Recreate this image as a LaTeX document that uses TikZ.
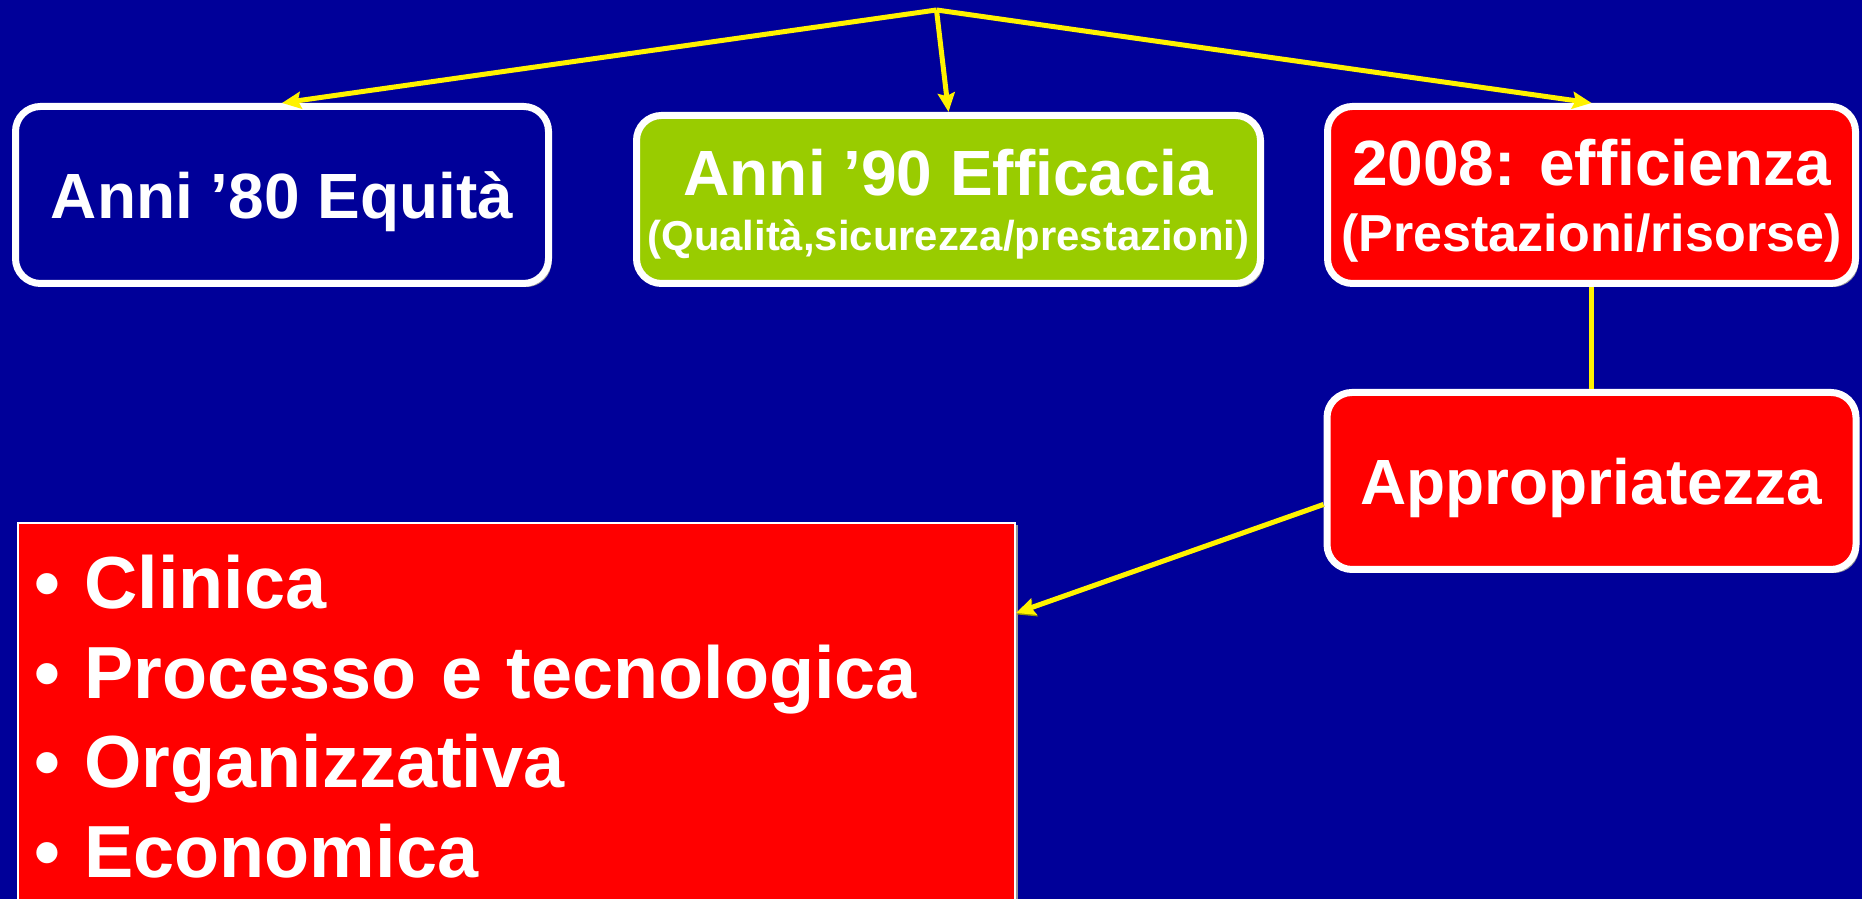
\documentclass[tikz,border=0pt]{standalone}
\usepackage{fontspec}
\setmainfont{Liberation Sans}
\usetikzlibrary{arrows.meta,positioning,shadows}

\definecolor{slideblue}{RGB}{0,0,153}
\definecolor{leafgreen}{RGB}{153,204,0}
\definecolor{darkyellow}{RGB}{150,150,0}

\begin{document}
\begin{tikzpicture}
  [
  era/.style={rectangle,rounded corners=0.25cm,draw=white,line width=0.07cm,
    text=white,align=center,inner sep=0pt,text depth=0pt,
    font=\bfseries\fontsize{18.2}{20}\selectfont,
    drop shadow={shadow xshift=0.03cm,shadow yshift=-0.035cm,fill=black!40,opacity=1}},
  kinds box/.style={rectangle,draw=white,line width=0.02cm,fill=red,text=white,
    text width=9.65cm,align=left,inner xsep=0.16cm,inner ysep=0.32cm,
    font=\bfseries\fontsize{21}{25.5}\selectfont,
    drop shadow={shadow xshift=0.03cm,shadow yshift=-0.02cm,fill=black!40,opacity=1}},
  link/.style={->,>={Stealth[length=0.19cm,width=0.17cm,inset=0.03cm]},yellow,line width=0.05cm},
  lifted/.style={preaction={draw=darkyellow,transform canvas={xshift=0.008cm,yshift=-0.015cm}}}
  ]
  \clip (0,0) rectangle (18.62,8.99);
  \fill[slideblue] (0,0) rectangle (18.62,8.99);

  \coordinate (top) at (9.365,8.89);
  \node[era,fill=slideblue,minimum width=5.33cm,minimum height=1.77cm] (eighties) at (2.82,7.04)
    {Anni ’80 Equità};
  \node[era,fill=leafgreen,minimum width=6.24cm,minimum height=1.68cm,
    font=\bfseries\fontsize{18.2}{15.6}\selectfont] (nineties) at (9.485,6.995)
    {Anni ’90 Efficacia\\{\fontsize{11.9}{12}\selectfont(Qualità,sicurezza/prestazioni)}};
  \node[era,fill=red,minimum width=5.28cm,minimum height=1.77cm,
    font=\bfseries\fontsize{18.2}{18.8}\selectfont] (efficiency) at (15.915,7.04)
    {2008: efficienza\\{\fontsize{14.8}{15}\selectfont(Prestazioni/risorse)}};
  \node[era,fill=red,minimum width=5.29cm,minimum height=1.77cm] (appropriateness)
    [below=1.02cm of efficiency] {Appropriatezza};
  \node[kinds box,anchor=north west] (kinds) at (0.17,3.77)
    {\textbullet\ Clinica\\ \textbullet\ Processo e tecnologica\\
     \textbullet\ Organizzativa\\ \textbullet\ Economica};

  \draw[link] (top) -- (eighties.north);
  \draw[link] (top) -- (nineties.north);
  \draw[link] (top) -- (efficiency.north);
  \draw[yellow,line width=0.05cm] (efficiency.south) -- (appropriateness.north);
  \draw[link,lifted] (appropriateness.185) -- ([yshift=-0.91cm]kinds.north east);
\end{tikzpicture}
\end{document}
